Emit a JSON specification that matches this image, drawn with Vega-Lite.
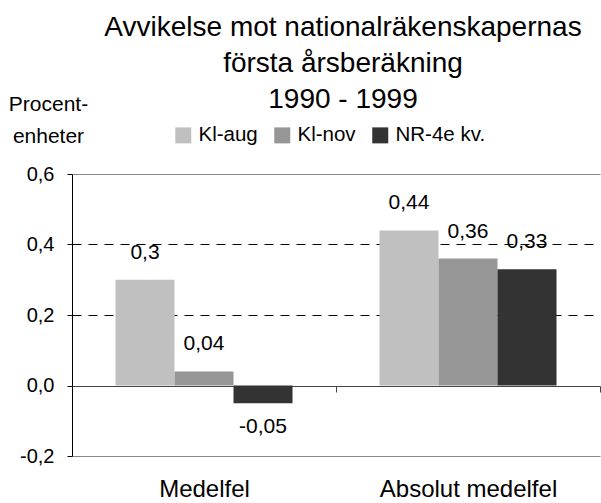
{
  "$schema": "https://vega.github.io/schema/vega-lite/v6.json",
  "autosize": "none",
  "width": 528,
  "height": 282,
  "padding": {"left": 72, "top": 174, "right": 1, "bottom": 47},
  "background": "white",
  "title": {
    "text": ["Avvikelse mot nationalräkenskapernas", "första årsberäkning", "1990 - 1999"],
    "fontSize": 28,
    "font": "Liberation Sans",
    "fontWeight": "normal",
    "color": "#000",
    "lineHeight": 36,
    "anchor": "middle",
    "frame": "group",
    "dx": 7,
    "offset": -21
  },
  "config": {
    "font": "Liberation Sans",
    "view": {"stroke": null},
    "locale": {"number": {"decimal": ",", "thousands": " ", "grouping": [3], "currency": ["", ""], "minus": "-"}}
  },
  "data": {
    "values": [
      {"Kategori": "Medelfel", "Serie": "Kl-aug", "Varde": 0.3},
      {"Kategori": "Medelfel", "Serie": "Kl-nov", "Varde": 0.04},
      {"Kategori": "Medelfel", "Serie": "NR-4e kv.", "Varde": -0.05},
      {"Kategori": "Absolut medelfel", "Serie": "Kl-aug", "Varde": 0.44},
      {"Kategori": "Absolut medelfel", "Serie": "Kl-nov", "Varde": 0.36},
      {"Kategori": "Absolut medelfel", "Serie": "NR-4e kv.", "Varde": 0.33}
    ]
  },
  "encoding": {
    "x": {
      "field": "Kategori",
      "type": "nominal",
      "sort": ["Medelfel", "Absolut medelfel"],
      "scale": {"paddingInner": 0, "paddingOuter": 0},
      "axis": {
        "title": null,
        "offset": -70,
        "labelAngle": 0,
        "labelFontSize": 24,
        "labelColor": "#000",
        "labelBaseline": "alphabetic",
        "labelPadding": 104,
        "tickSize": 6,
        "tickBand": "extent",
        "tickColor": "#444",
        "domainColor": "#444",
        "grid": false
      }
    },
    "xOffset": {
      "field": "Serie",
      "type": "nominal",
      "sort": ["Kl-aug", "Kl-nov", "NR-4e kv."],
      "scale": {"paddingInner": 0, "paddingOuter": 0.737}
    },
    "y": {
      "field": "Varde",
      "type": "quantitative",
      "scale": {"domain": [-0.2, 0.6], "nice": false},
      "axis": {
        "values": [-0.2, 0, 0.2, 0.4, 0.6],
        "format": ".1f",
        "title": ["Procent-", "enheter"],
        "titleAngle": 0,
        "titleAlign": "center",
        "titleBaseline": "alphabetic",
        "titleX": -24,
        "titleY": -64,
        "titleFontSize": 21,
        "titleFontWeight": "normal",
        "titleColor": "#000",
        "titleLineHeight": 32,
        "labelFontSize": 20,
        "labelColor": "#000",
        "labelPadding": 13,
        "tickSize": 5,
        "tickColor": "#000",
        "domainColor": "#000",
        "grid": true,
        "gridColor": {"condition": {"test": "datum.value > 0.5 || datum.value < -0.1", "value": "#888"}, "value": "#000"},
        "gridDash": {"condition": {"test": "datum.value > 0.5 || datum.value < -0.1", "value": []}, "value": [9, 7]},
        "gridOpacity": {"condition": {"test": "datum.value == 0", "value": 0}, "value": 1}
      }
    }
  },
  "layer": [
    {
      "mark": {"type": "bar"},
      "encoding": {
        "color": {
          "field": "Serie",
          "type": "nominal",
          "sort": ["Kl-aug", "Kl-nov", "NR-4e kv."],
          "scale": {"domain": ["Kl-aug", "Kl-nov", "NR-4e kv."], "range": ["#c0c0c0", "#969696", "#333333"]},
          "legend": {
            "orient": "none",
            "legendX": 101,
            "legendY": -49,
            "direction": "horizontal",
            "title": null,
            "padding": 0,
            "symbolType": "square",
            "symbolSize": 256,
            "symbolStrokeWidth": 0,
            "symbolOpacity": 1,
            "labelFontSize": 20.5,
            "labelColor": "#000",
            "labelOffset": 5,
            "columnPadding": 14
          }
        }
      }
    },
    {
      "transform": [{"filter": "datum.Varde >= 0"}],
      "mark": {"type": "text", "dy": -27, "fontSize": 21, "color": "#000", "baseline": "middle"},
      "encoding": {"text": {"field": "Varde", "type": "quantitative", "format": ".2~f"}}
    },
    {
      "transform": [{"filter": "datum.Varde < 0"}],
      "mark": {"type": "text", "dy": 24, "fontSize": 21, "color": "#000", "baseline": "middle"},
      "encoding": {"text": {"field": "Varde", "type": "quantitative", "format": ".2~f"}}
    }
  ]
}
